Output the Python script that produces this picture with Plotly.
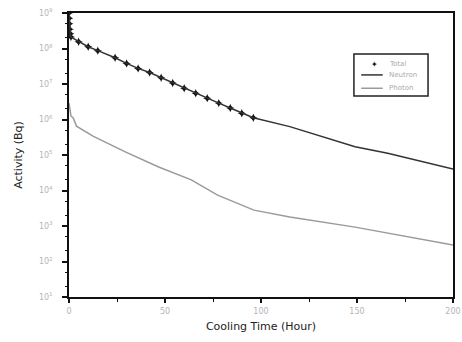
import plotly.graph_objects as go

# Total (marker series)
total_hours = [0, 0.1, 0.2, 0.4, 0.7, 1, 5, 10, 15, 24, 30, 36, 42, 48, 54, 60, 66, 72, 78, 84, 90, 96]
total_bq = [1.0e9, 7.1e8, 5.0e8, 3.5e8, 2.6e8, 2.1e8, 1.55e8, 1.12e8, 8.7e7, 5.5e7, 3.8e7, 2.75e7,
            2.1e7, 1.5e7, 1.07e7, 7.6e6, 5.5e6, 4.0e6, 2.9e6, 2.1e6, 1.5e6, 1.12e6]

# Neutron (black line)
neutron_hours = [0, 0.1, 0.2, 0.4, 0.7, 1, 5, 10, 15, 24, 30, 36, 42, 48, 54, 60, 66, 72, 78, 84, 90, 96,
                 115, 149, 166, 200]
neutron_bq = [1.0e9, 7.1e8, 5.0e8, 3.5e8, 2.6e8, 2.1e8, 1.55e8, 1.12e8, 8.7e7, 5.5e7, 3.8e7, 2.75e7,
              2.1e7, 1.5e7, 1.07e7, 7.6e6, 5.5e6, 4.0e6, 2.9e6, 2.1e6, 1.5e6, 1.12e6,
              6.3e5, 1.7e5, 1.12e5, 4.0e4]

# Photon (gray line)
photon_hours = [0, 0.5, 1, 2.2, 3.9, 12.5, 29.6, 46.7, 63.7, 77.4, 96.3, 115, 149, 200]
photon_bq = [2.9e6, 2.0e6, 1.26e6, 1.1e6, 6.5e5, 3.4e5, 1.2e5, 4.6e4, 2.0e4, 7.4e3, 2.8e3,
             1.8e3, 9.3e2, 2.9e2]

x_ticks = [0, 50, 100, 150, 200]
y_exps = [1, 2, 3, 4, 5, 6, 7, 8, 9]
legend_names = ["Total", "Neutron", "Photon"]

TOTAL_COLOR = "#111111"
NEUTRON_COLOR = "#333333"
PHOTON_COLOR = "#9a9a9a"

fig = go.Figure()
fig.add_trace(go.Scatter(x=total_hours, y=total_bq, mode="markers", name=legend_names[0],
                         marker=dict(symbol="star-diamond", size=6, color=TOTAL_COLOR)))
fig.add_trace(go.Scatter(x=neutron_hours, y=neutron_bq, mode="lines", name=legend_names[1],
                         line=dict(color=NEUTRON_COLOR, width=1.5)))
fig.add_trace(go.Scatter(x=photon_hours, y=photon_bq, mode="lines", name=legend_names[2],
                         line=dict(color=PHOTON_COLOR, width=1.5)))

# compact boxed legend (paper coordinates)
box = dict(x0=0.742, x1=0.935, y0=0.708, y1=0.856)
row_y = [0.820, 0.782, 0.735]
shapes = [dict(type="rect", xref="paper", yref="paper", **box,
               line=dict(color="#222222", width=1.5), fillcolor="white", layer="above")]
shapes.append(dict(type="line", xref="paper", yref="paper", x0=0.761, x1=0.817,
                   y0=row_y[1], y1=row_y[1], line=dict(color=NEUTRON_COLOR, width=1.5), layer="above"))
shapes.append(dict(type="line", xref="paper", yref="paper", x0=0.761, x1=0.817,
                   y0=row_y[2], y1=row_y[2], line=dict(color=PHOTON_COLOR, width=1.5), layer="above"))
annotations = [dict(x=0.795, y=row_y[0], xref="paper", yref="paper", text="\u2726",
                    showarrow=False, font=dict(size=8, color=TOTAL_COLOR),
                    xanchor="center", yanchor="middle")]
for name, yy in zip(legend_names, row_y):
    annotations.append(dict(x=0.828, y=yy, xref="paper", yref="paper", text=name,
                            showarrow=False, font=dict(size=7, color="#aaaaaa"),
                            xanchor="left", yanchor="middle"))

fig.update_layout(
    width=462, height=342,
    margin=dict(l=69, r=9, t=13, b=45, autoexpand=False),
    paper_bgcolor="white", plot_bgcolor="white",
    font=dict(family="DejaVu Sans", color="#555555"),
    showlegend=False,
    shapes=shapes, annotations=annotations,
)
fig.update_xaxes(
    range=[0, 200], tickvals=x_ticks, ticktext=[str(v) for v in x_ticks],
    automargin=False, ticklabeloverflow="allow",
    showgrid=False, zeroline=False,
    showline=True, linecolor="#111111", linewidth=1.5, mirror=True,
    ticks="outside", ticklen=4, tickcolor="#111111", tickwidth=1.5,
    minor=dict(ticks="outside", ticklen=3, dtick=25, tickcolor="#111111", tickwidth=1.2),
    tickfont=dict(size=8, color="#b5b5b5"), ticklabelstandoff=2,
    title=dict(text="Cooling Time (Hour)", font=dict(size=11, color="#222222"), standoff=7),
)
fig.update_yaxes(
    type="log", range=[1, 9], automargin=False, ticklabeloverflow="allow",
    tickvals=[10 ** e for e in y_exps], ticktext=[f"10<sup>{e}</sup>" for e in y_exps],
    showgrid=False, zeroline=False,
    showline=True, linecolor="#111111", linewidth=1.5, mirror=True,
    ticks="outside", ticklen=5, tickcolor="#111111", tickwidth=1.5,
    minor=dict(ticks="outside", ticklen=2, tickcolor="#111111", tickwidth=1),
    tickfont=dict(size=8, color="#b5b5b5"), ticklabelstandoff=8,
    title=dict(text="Activity (Bq)", font=dict(size=11, color="#222222"), standoff=14),
)

fig.write_html("out.html", config={"displayModeBar": False},
               post_script="document.body.style.margin='0';")
